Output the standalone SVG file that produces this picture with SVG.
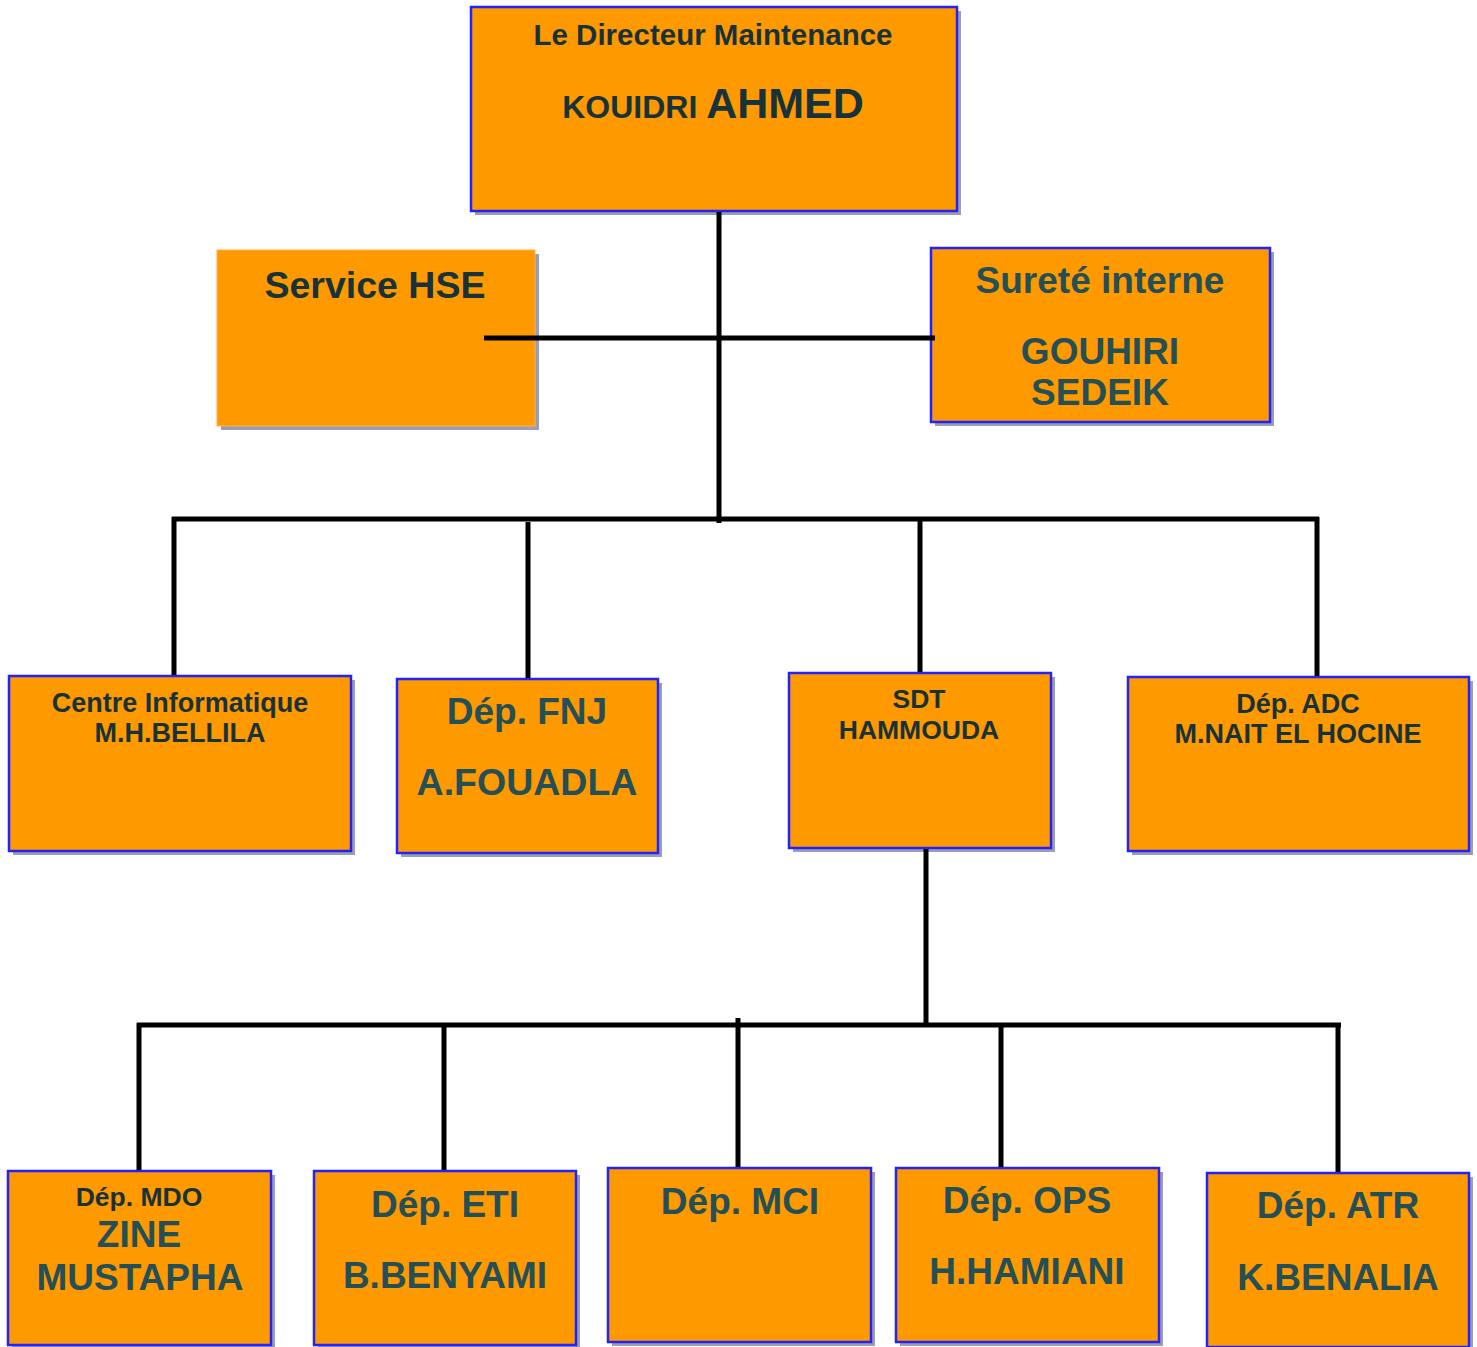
<svg xmlns="http://www.w3.org/2000/svg" width="1477" height="1347" viewBox="0 0 1477 1347">
<style>
.sh{fill:#9a9fb0}
.bx{fill:#ff9900;stroke:#2222ff;stroke-width:2.5}
.bx2{fill:#ff9900;stroke:#ffb050;stroke-width:1}
text{font-family:"Liberation Sans",Arial,sans-serif;font-weight:bold;text-anchor:middle}
.d{fill:#18323a}
.t{fill:#244f57}
.ln{stroke:#000;stroke-width:5;fill:none}
</style>
<rect width="1477" height="1347" fill="#fff"/>
<g id="director">
<rect class="sh" x="475" y="11" width="486" height="204"/>
<rect class="bx" x="471" y="7" width="486" height="204"/>
<text class="d" x="713" y="45" font-size="29.5">Le Directeur Maintenance</text>
<text class="d" x="713" y="118"><tspan font-size="32">KOUIDRI </tspan><tspan font-size="43">AHMED</tspan></text>
</g>
<g id="hse">
<rect class="sh" x="221" y="254" width="318" height="176"/>
<rect class="bx2" x="217" y="250" width="318" height="176"/>
<text class="d" x="375" y="298" font-size="37.5">Service HSE</text>
</g>
<g id="surete">
<rect class="sh" x="935" y="252" width="339" height="174"/>
<rect class="bx" x="931" y="248" width="339" height="174"/>
<text class="t" x="1100" y="293" font-size="37">Sureté interne</text>
<text class="t" x="1100" y="364" font-size="37">GOUHIRI</text>
<text class="t" x="1100" y="405" font-size="37">SEDEIK</text>
</g>
<g id="centre-info">
<rect class="sh" x="13" y="680" width="342" height="175"/>
<rect class="bx" x="9" y="676" width="342" height="175"/>
<text class="d" x="180" y="712" font-size="27">Centre Informatique</text>
<text class="d" x="180" y="742" font-size="27">M.H.BELLILA</text>
</g>
<g id="fnj">
<rect class="sh" x="401" y="683" width="261" height="174"/>
<rect class="bx" x="397" y="679" width="261" height="174"/>
<text class="t" x="527" y="724" font-size="37">Dép. FNJ</text>
<text class="t" x="527" y="795" font-size="37.5">A.FOUADLA</text>
</g>
<g id="sdt">
<rect class="sh" x="793" y="677" width="262" height="175"/>
<rect class="bx" x="789" y="673" width="262" height="175"/>
<text class="d" x="919" y="708" font-size="26.5">SDT</text>
<text class="d" x="919" y="739" font-size="26.5">HAMMOUDA</text>
</g>
<g id="adc">
<rect class="sh" x="1132" y="681" width="341" height="174"/>
<rect class="bx" x="1128" y="677" width="341" height="174"/>
<text class="d" x="1298" y="713" font-size="27">Dép. ADC</text>
<text class="d" x="1298" y="743" font-size="27">M.NAIT EL HOCINE</text>
</g>
<g id="mdo">
<rect class="sh" x="12" y="1175" width="263" height="174"/>
<rect class="bx" x="8" y="1171" width="263" height="174"/>
<text class="d" x="139" y="1206" font-size="26.5">Dép. MDO</text>
<text class="t" x="139" y="1247" font-size="37">ZINE</text>
<text class="t" x="140" y="1290" font-size="37">MUSTAPHA</text>
</g>
<g id="eti">
<rect class="sh" x="318" y="1175" width="262" height="174"/>
<rect class="bx" x="314" y="1171" width="262" height="174"/>
<text class="t" x="445" y="1217" font-size="37">Dép. ETI</text>
<text class="t" x="445" y="1288" font-size="37">B.BENYAMI</text>
</g>
<g id="mci">
<rect class="sh" x="612" y="1172" width="263" height="174"/>
<rect class="bx" x="608" y="1168" width="263" height="174"/>
<text class="t" x="740" y="1214" font-size="37">Dép. MCI</text>
</g>
<g id="ops">
<rect class="sh" x="900" y="1172" width="263" height="174"/>
<rect class="bx" x="896" y="1168" width="263" height="174"/>
<text class="t" x="1027" y="1213" font-size="37">Dép. OPS</text>
<text class="t" x="1027" y="1284" font-size="37">H.HAMIANI</text>
</g>
<g id="atr">
<rect class="sh" x="1211" y="1177" width="262" height="174"/>
<rect class="bx" x="1207" y="1173" width="262" height="174"/>
<text class="t" x="1338" y="1218" font-size="37">Dép. ATR</text>
<text class="t" x="1338" y="1290" font-size="37">K.BENALIA</text>
</g>
<g id="connectors">
<line class="ln" x1="719" y1="212" x2="719" y2="523"/>
<line class="ln" x1="484" y1="338" x2="935" y2="338"/>
<line class="ln" x1="172" y1="519" x2="1319" y2="519"/>
<line class="ln" x1="174" y1="517" x2="174" y2="675"/>
<line class="ln" x1="528" y1="522" x2="528" y2="678"/>
<line class="ln" x1="920" y1="517" x2="920" y2="672"/>
<line class="ln" x1="1317" y1="517" x2="1317" y2="676"/>
<line class="ln" x1="926" y1="849" x2="926" y2="1027"/>
<line class="ln" x1="137" y1="1025" x2="1341" y2="1025"/>
<line class="ln" x1="139" y1="1023" x2="139" y2="1170"/>
<line class="ln" x1="444" y1="1023" x2="444" y2="1170"/>
<line class="ln" x1="738" y1="1018" x2="738" y2="1167"/>
<line class="ln" x1="1001" y1="1023" x2="1001" y2="1167"/>
<line class="ln" x1="1338" y1="1023" x2="1338" y2="1172"/>
</g>
</svg>
